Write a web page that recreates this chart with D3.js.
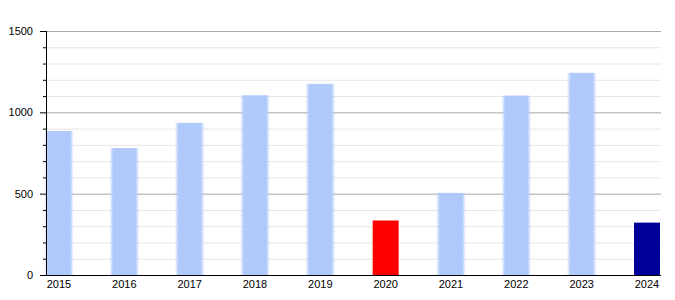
<!DOCTYPE html>
<html><head><meta charset="utf-8">
<script src="https://cdn.jsdelivr.net/npm/d3@7"></script>
<style>body{margin:0;background:#fff;} text{font-family:"Liberation Sans",Arial,sans-serif;}</style>
</head><body>
<svg id="c" width="675" height="300"></svg>
<script>
const years = ["2015","2016","2017","2018","2019","2020","2021","2022","2023","2024"];
const values = [885, 780, 935, 1105, 1175, 335, 505, 1103, 1243, 322];
const barColors = ["#afc9fb","#afc9fb","#afc9fb","#afc9fb","#afc9fb","#ff0000","#afc9fb","#afc9fb","#afc9fb","#000099"];
const yTicks = [0, 500, 1000, 1500];

(function(){
const svg = d3.select("#c");
const pL = 46, pR = 660, pT = 31, pB = 275;
const x = d3.scaleBand().domain(years).range([pL, pR]).paddingInner(0.602).paddingOuter(0);
const y = d3.scaleLinear().domain([0, 1500]).range([pB, pT]);

const defs = svg.append("defs");
defs.append("filter").attr("id","soft").attr("x","-20%").attr("y","-5%").attr("width","140%").attr("height","110%")
  .append("feGaussianBlur").attr("stdDeviation","0.8 0.4");

const minor = d3.range(0, 1501, 100);
svg.append("g").selectAll("line").data(minor.filter(v => v % 500 !== 0)).join("line")
  .attr("x1", pL).attr("x2", pR + 1).attr("y1", d => y(d) + 0.5).attr("y2", d => y(d) + 0.5)
  .attr("stroke", "#e6e6e6").attr("stroke-width", 1);
svg.append("g").selectAll("line").data(yTicks.filter(v => v > 0)).join("line")
  .attr("x1", pL).attr("x2", pR + 1).attr("y1", d => y(d) + 0.5).attr("y2", d => y(d) + 0.5)
  .attr("stroke", "#a8a8a8").attr("stroke-width", 1);

svg.append("g").selectAll("rect").data(years).join("rect")
  .attr("x", d => x(d)).attr("width", x.bandwidth())
  .attr("y", (d, i) => y(values[i])).attr("height", (d, i) => y(0) - y(values[i]))
  .attr("fill", (d, i) => barColors[i])
  .attr("filter", (d, i) => barColors[i] === "#afc9fb" ? "url(#soft)" : null);

const ya = svg.append("g");
ya.append("line").attr("x1", pL + 0.5).attr("x2", pL + 0.5).attr("y1", pT).attr("y2", pB + 1).attr("stroke", "#000");
ya.selectAll("line.t").data(minor).join("line").attr("class","t")
  .attr("x1", d => d % 500 === 0 ? pL - 6 : pL - 3).attr("x2", pL)
  .attr("y1", d => y(d) + 0.5).attr("y2", d => y(d) + 0.5).attr("stroke", "#000");
ya.selectAll("text").data(yTicks).join("text")
  .attr("x", 33).attr("y", d => y(d) + 4).attr("text-anchor", "end")
  .attr("font-size", 11).attr("fill", "#000").text(d => d);

svg.append("line").attr("x1", pL).attr("x2", pR + 1).attr("y1", pB + 0.5).attr("y2", pB + 0.5).attr("stroke", "#000");
svg.append("g").selectAll("text").data(years).join("text")
  .attr("x", d => x(d) + x.bandwidth() / 2).attr("y", 288).attr("text-anchor", "middle")
  .attr("font-size", 11).attr("fill", "#000").text(d => d);
})();
</script>
</body></html>
